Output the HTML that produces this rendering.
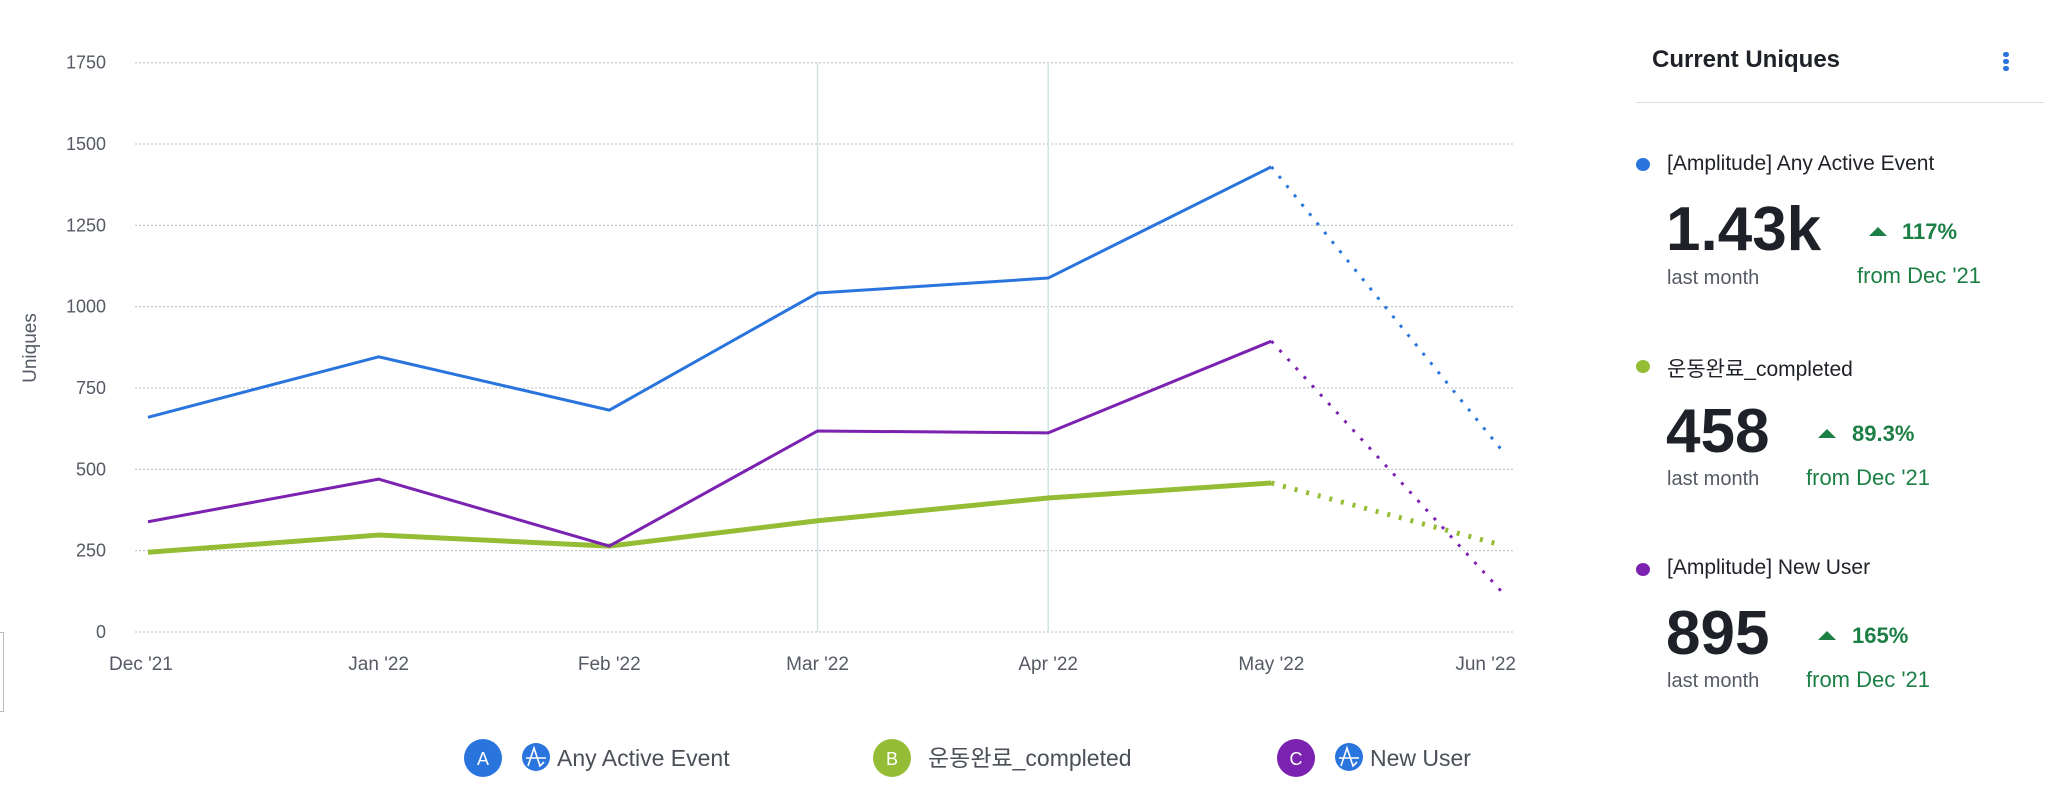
<!DOCTYPE html>
<html><head><meta charset="utf-8"><style>
body{margin:0;width:2048px;height:801px;background:#fff;overflow:hidden;font-family:"Liberation Sans","Noto Sans CJK KR",sans-serif;position:relative}
.abs{position:absolute;white-space:nowrap}
</style></head><body>
<svg width="1560" height="801" style="position:absolute;left:0;top:0" id="chart" font-family="Liberation Sans, Noto Sans CJK KR, sans-serif"></svg>
<div class="abs" style="left:0;top:632px;width:3px;height:78px;border:1px solid #bbb;border-left:none"></div>

<div class="abs" style="left:1652px;top:46px;font-size:24px;font-weight:bold;color:#1e2127">Current Uniques</div>
<div class="abs" style="left:2003px;top:52px;width:6px">
 <div style="width:6px;height:5px;border-radius:3px;background:#2a75dd;margin-bottom:2px"></div>
 <div style="width:6px;height:5px;border-radius:3px;background:#2a75dd;margin-bottom:2px"></div>
 <div style="width:6px;height:5px;border-radius:3px;background:#2a75dd"></div>
</div>
<div class="abs" style="left:1636px;top:102px;width:408px;height:1px;background:#ddd"></div>

<div>
<div class="abs" style="left:1636px;top:158px;width:14px;height:13px;border-radius:50%;background:#2a75dd"></div>
<div class="abs" style="left:1667px;top:152px;font-size:21px;color:#1e2127">[Amplitude] Any Active Event</div>
<div class="abs" style="left:1666px;top:196px;font-size:62px;font-weight:bold;color:#1e2127;line-height:68px">1.43k</div>
<div class="abs" style="left:1667px;top:267px;font-size:20px;color:#555a64">last month</div>
<div class="abs" style="left:1869px;top:227px;width:0;height:0;border-left:9px solid transparent;border-right:9px solid transparent;border-bottom:9px solid #1c7f45"></div>
<div class="abs" style="left:1902px;top:219px;font-size:22px;font-weight:bold;color:#1c7f45">117%</div>
<div class="abs" style="left:1857px;top:263px;font-size:22px;color:#1c7f45">from Dec '21</div>
</div>

<div>
<div class="abs" style="left:1636px;top:360px;width:14px;height:13px;border-radius:50%;background:#94bd35"></div>
<div class="abs" style="left:1667px;top:353px;font-size:21px;color:#1e2127">운동완료_completed</div>
<div class="abs" style="left:1666px;top:398px;font-size:62px;font-weight:bold;color:#1e2127;line-height:68px">458</div>
<div class="abs" style="left:1667px;top:468px;font-size:20px;color:#555a64">last month</div>
<div class="abs" style="left:1818px;top:429px;width:0;height:0;border-left:9px solid transparent;border-right:9px solid transparent;border-bottom:9px solid #1c7f45"></div>
<div class="abs" style="left:1852px;top:421px;font-size:22px;font-weight:bold;color:#1c7f45">89.3%</div>
<div class="abs" style="left:1806px;top:465px;font-size:22px;color:#1c7f45">from Dec '21</div>
</div>

<div>
<div class="abs" style="left:1636px;top:563px;width:14px;height:13px;border-radius:50%;background:#7b22b1"></div>
<div class="abs" style="left:1667px;top:556px;font-size:21px;color:#1e2127">[Amplitude] New User</div>
<div class="abs" style="left:1666px;top:600px;font-size:62px;font-weight:bold;color:#1e2127;line-height:68px">895</div>
<div class="abs" style="left:1667px;top:670px;font-size:20px;color:#555a64">last month</div>
<div class="abs" style="left:1818px;top:631px;width:0;height:0;border-left:9px solid transparent;border-right:9px solid transparent;border-bottom:9px solid #1c7f45"></div>
<div class="abs" style="left:1852px;top:623px;font-size:22px;font-weight:bold;color:#1c7f45">165%</div>
<div class="abs" style="left:1806px;top:667px;font-size:22px;color:#1c7f45">from Dec '21</div>
</div>

<script>
const categories=["Dec '21","Jan '22","Feb '22","Mar '22","Apr '22","May '22","Jun '22"];
const dayOffsets=[0,31,62,90,121,151,182];
const seriesA=[660,846,682,1042,1088,1430,558];
const seriesB=[245,298,264,342,412,458,267];
const seriesC=[339,470,264,618,612,894,123];
const yTicks=[0,250,500,750,1000,1250,1500,1750];
const svg=document.getElementById('chart');
const NS='http://www.w3.org/2000/svg';
const x0=148,x1=1502,yBase=632,yTop=62.7,yMax=1750;
function xs(d){return x0+(x1-x0)*d/dayOffsets[dayOffsets.length-1];}
function ys(v){return yBase-(yBase-yTop)*v/yMax;}
function mk(t,a){const e=document.createElementNS(NS,t);for(const k in a)e.setAttribute(k,a[k]);svg.appendChild(e);return e;}
yTicks.forEach(v=>{
 const g=mk('line',{x1:135,x2:1515,y1:ys(v),y2:ys(v),stroke:'#b8bcc2','stroke-width':1,'stroke-dasharray':'2,2'});
 
 
 const t=mk('text',{x:106,y:ys(v)+6,'text-anchor':'end','font-size':18,fill:'#555a64'});t.textContent=v;
 
 
});
[3,4].forEach(i=>{
 const l=mk('line',{x1:xs(dayOffsets[i]),x2:xs(dayOffsets[i]),y1:yTop,y2:yBase,stroke:'#cfe3e3','stroke-width':1.5});
 
 
});
categories.forEach((c,i)=>{
 let anchor='middle',x=xs(dayOffsets[i]);
 if(i===0){anchor='start';x=109;} if(i===categories.length-1){anchor='end';x=1516;}
 const t=mk('text',{x:x,y:670,'text-anchor':anchor,'font-size':19,fill:'#555a64'});t.textContent=c;
 
 
});
const yt=mk('text',{x:0,y:0,transform:'translate(36,348) rotate(-90)','text-anchor':'middle','font-size':19,fill:'#555a64'});yt.textContent='Uniques';


function series(vals,color,w,name){
 const n=vals.length;
 const solid=vals.slice(0,n-1).map((v,i)=>xs(dayOffsets[i])+','+ys(v)).join(' ');
 const p=mk('polyline',{points:solid,fill:'none',stroke:color,'stroke-width':w,'stroke-linejoin':'round'});
 
 
 const d=mk('line',{x1:xs(dayOffsets[n-2]),y1:ys(vals[n-2]),x2:xs(dayOffsets[n-1]),y2:ys(vals[n-1]),stroke:color,'stroke-width':w,'stroke-dasharray':'3,9'});
 
 
}
series(seriesB,'#94bd35',5,'completed');
series(seriesC,'#7b22b1',3,'new-user');
series(seriesA,'#2a75dd',3,'any-active-event');
const legend=[['A','#2a75dd',483,'Any Active Event',true],['B','#94bd35',892,'운동완료_completed',false],['C','#7b22b1',1296,'New User',true]];
legend.forEach(L=>{
 const g=document.createElementNS(NS,'g');svg.appendChild(g);
 
 
 const c=document.createElementNS(NS,'circle');c.setAttribute('cx',L[2]);c.setAttribute('cy',758);c.setAttribute('r',19);c.setAttribute('fill',L[1]);g.appendChild(c);
 const t=document.createElementNS(NS,'text');t.setAttribute('x',L[2]);t.setAttribute('y',765);t.setAttribute('text-anchor','middle');t.setAttribute('font-size',18);t.setAttribute('fill','#fff');t.textContent=L[0];g.appendChild(t);
 let tx=L[2]+36;
 if(L[4]){
  const ic=document.createElementNS(NS,'circle');ic.setAttribute('cx',L[2]+53);ic.setAttribute('cy',757);ic.setAttribute('r',14);ic.setAttribute('fill','#2a75dd');g.appendChild(ic);
  const pp=document.createElementNS(NS,'path');pp.setAttribute('d',`M${L[2]+43} 758 H${L[2]+63} M${L[2]+45} 766 L${L[2]+51} 748 L${L[2]+57} 766 L${L[2]+61} 762`);pp.setAttribute('stroke','#fff');pp.setAttribute('stroke-width',1.6);pp.setAttribute('fill','none');g.appendChild(pp);
  tx=L[2]+74;
 }
 const lt=document.createElementNS(NS,'text');lt.setAttribute('x',tx);lt.setAttribute('y',766);lt.setAttribute('font-size',23);lt.setAttribute('fill','#4a4f58');lt.textContent=L[3];g.appendChild(lt);
});
</script>
</body></html>
